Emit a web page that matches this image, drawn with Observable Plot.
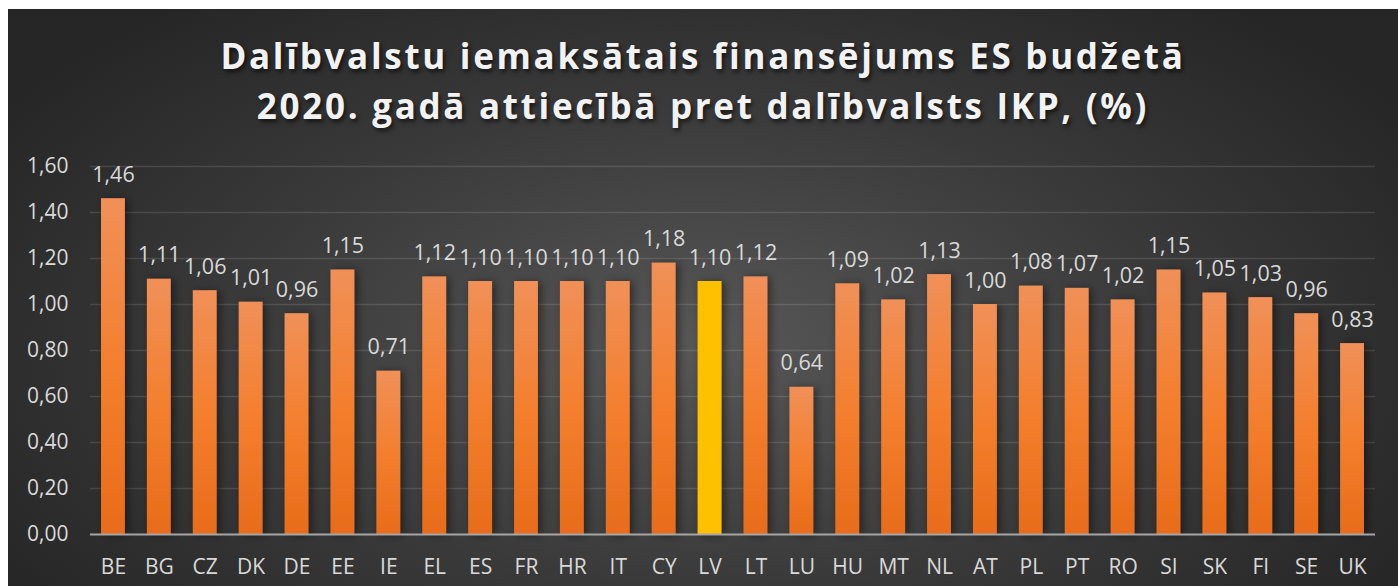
<!DOCTYPE html>
<html>
<head>
<meta charset="utf-8">
<script src="https://cdn.jsdelivr.net/npm/d3@7"></script>
<script src="https://cdn.jsdelivr.net/npm/@observablehq/plot@0.6"></script>
<style>
  html, body { margin: 0; padding: 0; background: #ffffff; }
  #panel {
    position: absolute; left: 8px; top: 9px; width: 1390px; height: 577px;
    background: radial-gradient(ellipse 60% 75% at 50% 58%, #575757 0%, #3a3a3a 55%, #262626 100%);
    overflow: hidden;
  }
  #title {
    position: absolute; left: 0; top: 22px; width: 1390px; text-align: center;
    font-family: "Open Sans", sans-serif; font-weight: 700; font-size: 35px;
    line-height: 50px; letter-spacing: 2.7px; color: #f2f2f2;
    text-shadow: 2px 3px 4px rgba(0,0,0,0.6);
  }
  #chart { position: absolute; left: 0; top: 131px; }
  #chart svg { overflow: visible; }
</style>
</head>
<body>
<div id="panel">
  <div id="title">Dalībvalstu iemaksātais finansējums ES budžetā<br>2020. gadā attiecībā pret dalībvalsts IKP, (%)</div>
  <div id="chart"></div>
</div>
<script>
const countries = ["BE","BG","CZ","DK","DE","EE","IE","EL","ES","FR","HR","IT","CY","LV","LT","LU","HU","MT","NL","AT","PL","PT","RO","SI","SK","FI","SE","UK"];
const values = [1.46,1.11,1.06,1.01,0.96,1.15,0.71,1.12,1.10,1.10,1.10,1.10,1.18,1.10,1.12,0.64,1.09,1.02,1.13,1.00,1.08,1.07,1.02,1.15,1.05,1.03,0.96,0.83];
const yTicks = [0,0.2,0.4,0.6,0.8,1.0,1.2,1.4,1.6];
const highlight = "LV";

const data = countries.map((c, i) => ({c, v: values[i]}));
const fmt = d => d.toFixed(2).replace(".", ",");
const font = "'Open Sans', sans-serif";
const txt = "#d9d9d9";

const chart = Plot.plot({
  width: 1390,
  height: 446,
  marginTop: 26,
  marginBottom: 52,
  marginLeft: 82,
  marginRight: 23,
  style: {background: "transparent", fontFamily: font, color: txt},
  x: {domain: countries, paddingInner: 0.48, paddingOuter: 0.24, round: false, axis: null},
  y: {domain: [0, 1.6], axis: null},
  marks: [
    Plot.ruleY(yTicks.slice(1), {stroke: "#ffffff", strokeOpacity: 0.12, strokeWidth: 1.5}),
    Plot.barY(data, {x: "c", y: "v", fill: d => d.c === highlight ? "#ffc000" : "url(#barGrad)", className: "bars"}),
    Plot.ruleY([0], {stroke: "#a6a6a6", strokeWidth: 2}),
    Plot.text(data, {x: "c", y: "v", text: d => fmt(d.v), dy: -17, lineAnchor: "bottom", fill: txt, fontSize: 21.5}),
    Plot.axisY({ticks: yTicks, tickFormat: fmt, label: null, tickSize: 0, tickPadding: 22, fontSize: 21, fill: txt}),
    Plot.axisX({label: null, tickSize: 0, tickPadding: 25, fontSize: 21, fill: txt})
  ]
});

const svg = d3.select(chart);
const defs = svg.insert("defs", ":first-child");
const g = defs.append("linearGradient").attr("id", "barGrad").attr("x1", 0).attr("y1", 0).attr("x2", 0).attr("y2", 1);
g.append("stop").attr("offset", "0%").attr("stop-color", "#f09058");
g.append("stop").attr("offset", "50%").attr("stop-color", "#f47f2e");
g.append("stop").attr("offset", "100%").attr("stop-color", "#e86c1a");
const f = defs.append("filter").attr("id", "shadow").attr("x", "-50%").attr("y", "-10%").attr("width", "200%").attr("height", "120%");
f.append("feDropShadow").attr("dx", 3).attr("dy", 1).attr("stdDeviation", 4).attr("flood-color", "#000").attr("flood-opacity", 0.45);
svg.selectAll("g.bars rect, [aria-label='bar'] rect").attr("filter", "url(#shadow)");

document.getElementById("chart").appendChild(chart);
</script>
</body>
</html>
